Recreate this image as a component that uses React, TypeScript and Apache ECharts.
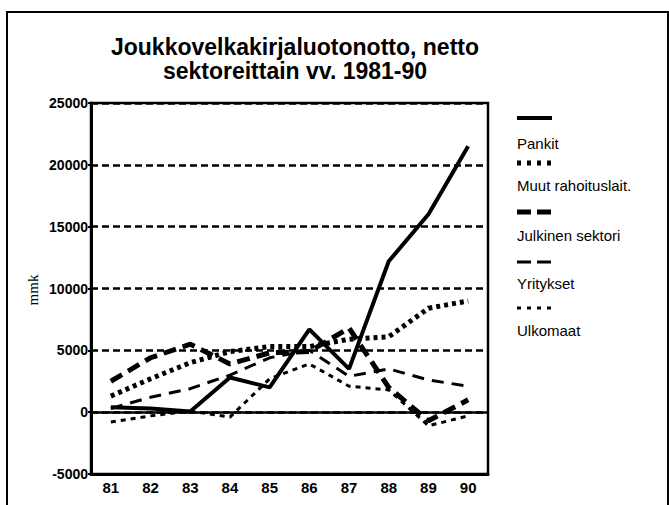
import React, { useEffect, useRef } from "react";
import * as echarts from "echarts";

const years = ["81", "82", "83", "84", "85", "86", "87", "88", "89", "90"];
const pankit = [400, 300, 50, 2800, 2000, 6700, 3500, 12200, 16000, 21500];
const muut = [1300, 2700, 4000, 4900, 5300, 5300, 5900, 6100, 8400, 9000];
const julkinen = [2500, 4400, 5500, 3900, 4800, 4900, 6800, 2000, -700, 1000];
const yritykset = [300, 1200, 1900, 3000, 4400, 5000, 2900, 3500, 2600, 2100];
const ulkomaat = [-800, -300, 100, -400, 2700, 3900, 2100, 1800, -1100, -300];

const seriesNames = ["Pankit", "Muut rahoituslait.", "Julkinen sektori", "Yritykset", "Ulkomaat"];
const seriesData = [pankit, muut, julkinen, yritykset, ulkomaat];
const seriesStyles: { width: number; type: any; legendDash: any }[] = [
  { width: 4, type: "solid", legendDash: null },
  { width: 5, type: [4, 4], legendDash: [4, 6] },
  { width: 5, type: [13, 7], legendDash: [14, 6] },
  { width: 3, type: [12, 8], legendDash: [14, 6] },
  { width: 3, type: [5, 5], legendDash: [4, 6] },
];

export default function App() {
  const ref = useRef<HTMLDivElement>(null);
  useEffect(() => {
    if (!ref.current) return;
    const chart = echarts.init(ref.current, null, { renderer: "svg" });
    const legendY = [118, 163, 212, 262, 308];
    const legendTextY = [143, 185, 235, 283, 330];
    const legendGraphics: any[] = [];
    seriesNames.forEach((n, i) => {
      legendGraphics.push({
        type: "line",
        shape: { x1: 517, y1: legendY[i], x2: 552, y2: legendY[i] },
        style: {
          stroke: "#000",
          lineWidth: seriesStyles[i].width,
          lineDash: seriesStyles[i].legendDash,
        },
      });
      legendGraphics.push({
        type: "text",
        x: 517,
        y: legendTextY[i],
        style: {
          text: n,
          fill: "#000",
          font: "15px 'Liberation Sans', Arial, sans-serif",
          textVerticalAlign: "middle",
          textAlign: "left",
        },
      });
    });
    chart.setOption({
      animation: false,
      backgroundColor: "#fff",
      title: {
        text: "Joukkovelkakirjaluotonotto, netto\nsektoreittain vv. 1981-90",
        left: 290,
        top: 30,
        textAlign: "center",
        textStyle: {
          fontFamily: "'Liberation Sans', Arial, sans-serif",
          fontWeight: "bold",
          fontSize: 23,
          lineHeight: 24,
          color: "#000",
        },
      },
      grid: {
        left: 91,
        top: 103,
        right: 181,
        bottom: 31,
        show: true,
        borderColor: "#000",
        borderWidth: 2.5,
        backgroundColor: "transparent",
      },
      xAxis: {
        type: "category",
        data: years,
        boundaryGap: true,
        axisLine: { onZero: false, lineStyle: { color: "#000", width: 3 } },
        axisTick: { alignWithLabel: true, length: 4, lineStyle: { color: "#000", width: 2 } },
        axisLabel: {
          color: "#000",
          fontFamily: "'Liberation Sans', Arial, sans-serif",
          fontWeight: "bold",
          fontSize: 15,
          margin: 6,
        },
        splitLine: { show: false },
      },
      yAxis: {
        type: "value",
        min: -5000,
        max: 25000,
        interval: 5000,
        axisLine: { show: true, lineStyle: { color: "#000", width: 3 } },
        axisTick: { show: true, length: 3, lineStyle: { color: "#000", width: 2 } },
        axisLabel: {
          color: "#000",
          fontFamily: "'Liberation Sans', Arial, sans-serif",
          fontWeight: "bold",
          fontSize: 14,
          margin: 3,
          formatter: (v: number) => String(v),
        },
        splitLine: { show: true, lineStyle: { color: "#000", width: 2.5, type: [7, 4] } },
      },
      graphic: [
        {
          type: "rect",
          shape: { x: 7, y: 12, width: 661, height: 500 },
          style: { fill: "none", stroke: "#000", lineWidth: 2 },
          silent: true,
        },
        {
          type: "text",
          x: 33,
          y: 290,
          rotation: Math.PI / 2,
          style: {
            text: "mmk",
            fill: "#000",
            font: "15px 'Liberation Serif', 'Times New Roman', serif",
            textAlign: "center",
            textVerticalAlign: "middle",
          },
        },
        ...legendGraphics,
      ],
      series: seriesNames.map((n, i) => ({
        name: n,
        type: "line",
        data: seriesData[i],
        symbol: "none",
        lineStyle: { color: "#000", width: seriesStyles[i].width, type: seriesStyles[i].type },
        ...(i === 0
          ? {
              markLine: {
                silent: true,
                symbol: "none",
                label: { show: false },
                lineStyle: { color: "#000", width: 2.5, type: "solid" },
                data: [{ yAxis: 0 }],
              },
            }
          : {}),
      })),
    });
    return () => chart.dispose();
  }, []);
  return (
    <div
      ref={ref}
      style={{ position: "fixed", left: 0, top: 0, width: 669, height: 505 }}
    />
  );
}
